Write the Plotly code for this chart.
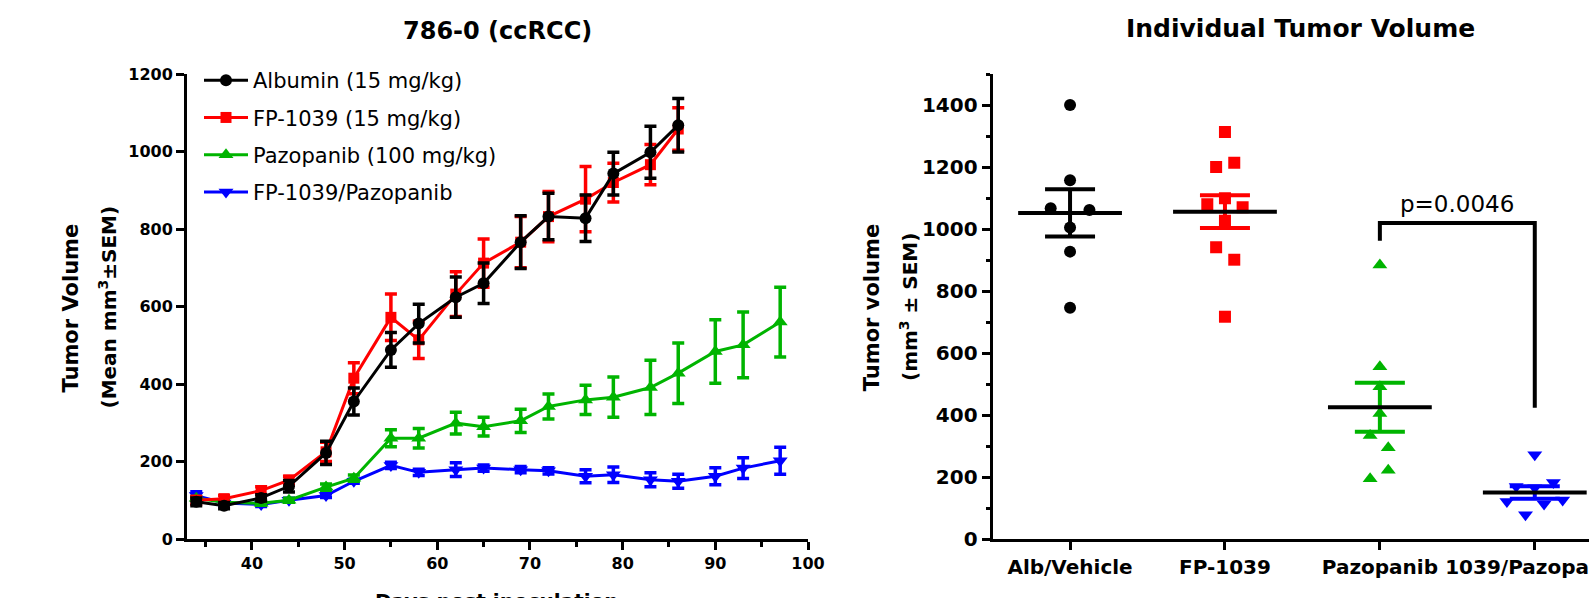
import plotly.graph_objects as go

# ---------------- data: left panel (mean ± SEM over time) ----------------
days = [34, 37, 41, 44, 48, 51, 55, 58, 62, 65, 69, 72, 76, 79, 83, 86, 90, 93, 97]

albumin_mean = [96, 86, 106, 136, 222, 355, 488, 556, 624, 660, 766, 832, 828, 943, 998, 1068]
albumin_sem = [10, 8, 8, 15, 30, 35, 45, 50, 52, 52, 68, 60, 60, 55, 67, 69]

fp1039_mean = [100, 104, 125, 152, 225, 415, 572, 514, 632, 712, 766, 832, 877, 920, 966, 1058]
fp1039_sem = [10, 8, 10, 10, 25, 40, 60, 48, 58, 62, 66, 65, 84, 50, 52, 55]

pazopanib_mean = [105, 95, 92, 100, 134, 157, 260, 260, 299, 290, 305, 342, 359, 366, 391, 428, 484, 501, 560]
pazopanib_sem = [5, 5, 5, 5, 8, 8, 22, 25, 28, 24, 30, 32, 38, 52, 70, 78, 82, 85, 90]

combo_mean = [112, 93, 89, 100, 112, 149, 190, 172, 179, 183, 179, 176, 162, 166, 153, 149, 162, 183, 202]
combo_sem = [10, 5, 5, 5, 5, 5, 8, 8, 18, 8, 8, 8, 17, 20, 18, 18, 22, 27, 35]

legend_names = ["Albumin (15 mg/kg)", "FP-1039 (15 mg/kg)", "Pazopanib (100 mg/kg)", "FP-1039/Pazopanib"]

# ---------------- data: right panel (individual tumour volumes) ----------------
categories = ["Alb/Vehicle", "FP-1039", "Pazopanib", "1039/Pazopanib"]

alb_values = [1400, 1157, 1067, 1061, 1005, 927, 746]
fp_values = [1313, 1200, 1214, 1099, 1080, 1070, 1027, 941, 901, 717]
paz_values = [884, 556, 491, 405, 334, 294, 222, 194]
combo_values = [272, 169, 165, 182, 121, 113, 126, 78]

group_means = [1052, 1056, 425, 150]
group_sems = [76, 53, 79, 20]

p_value_text = "p=0.0046"
bracket_top = 1019
bracket_left_end = 962
bracket_right_end = 423

# horizontal jitter of the individual points (layout, category units)
alb_jitter = [0, 0, -0.125, 0.125, 0, 0, 0]
fp_jitter = [0, -0.057, 0.06, 0, -0.114, 0.114, 0, -0.057, 0.06, 0]
paz_jitter = [0, 0, 0, 0, -0.063, 0.054, 0.054, -0.063]
combo_jitter = [0, -0.12, 0, 0.12, -0.18, 0.06, 0.18, -0.06]

# ---------------- styling ----------------
W, H = 1589, 598
FONT = "DejaVu Sans"
BLACK, RED, GREEN, BLUE = "#000000", "#FF0000", "#00B400", "#0000FF"
PLOT_TOP, PLOT_BOTTOM = 74, 539


def py(pixel_y):
    return (PLOT_BOTTOM - pixel_y) / (PLOT_BOTTOM - PLOT_TOP)


fig = go.Figure()

left_series = [
    (legend_names[3], combo_mean, combo_sem, BLUE, "triangle-down", 13, 4),
    (legend_names[2], pazopanib_mean, pazopanib_sem, GREEN, "triangle-up", 13, 3),
    (legend_names[1], fp1039_mean, fp1039_sem, RED, "square", 11, 2),
    (legend_names[0], albumin_mean, albumin_sem, BLACK, "circle", 12, 1),
]
for name, m, e, c, sym, size, rank in left_series:
    fig.add_trace(go.Scatter(
        x=days[:len(m)], y=m, mode="lines+markers", name=name,
        line=dict(color=c, width=3),
        marker=dict(symbol=sym, size=size, color=c),
        error_y=dict(type="data", array=e, color=c, thickness=3.5, width=6, visible=True),
        legendgroup=name, legendrank=rank, xaxis="x", yaxis="y",
    ))

right_groups = [
    (alb_values, alb_jitter, BLACK, "circle", 12),
    (fp_values, fp_jitter, RED, "square", 12),
    (paz_values, paz_jitter, GREEN, "triangle-up", 13),
    (combo_values, combo_jitter, BLUE, "triangle-down", 13),
]
for i, (vals, jit, c, sym, size) in enumerate(right_groups):
    fig.add_trace(go.Scatter(
        x=[i + j for j in jit], y=vals, mode="markers",
        marker=dict(symbol=sym, size=size, color=c),
        showlegend=False, xaxis="x2", yaxis="y2", hoverinfo="y",
    ))
for i, (vals, jit, c, sym, size) in enumerate(right_groups):
    fig.add_trace(go.Scatter(
        x=[i], y=[group_means[i]], mode="markers",
        marker=dict(size=1, color="rgba(0,0,0,0)"),
        error_y=dict(type="data", array=[group_sems[i]], color=c, thickness=4, width=25, visible=True),
        showlegend=False, xaxis="x2", yaxis="y2", hoverinfo="skip",
    ))
MEAN_HALF = 0.335
for i, m in enumerate(group_means):
    fig.add_trace(go.Scatter(
        x=[i - MEAN_HALF, i + MEAN_HALF], y=[m, m], mode="lines",
        line=dict(color=BLACK, width=4),
        showlegend=False, xaxis="x2", yaxis="y2", hoverinfo="skip",
    ))

axis_common = dict(
    showline=True, linecolor=BLACK, linewidth=3, mirror=False,
    showgrid=False, zeroline=False, ticks="outside", tickcolor=BLACK,
    tickwidth=3, ticklen=8, automargin=False,
)

fig.update_layout(
    template="none",
    width=W, height=H, autosize=False,
    margin=dict(l=0, r=0, t=PLOT_TOP, b=H - PLOT_BOTTOM, pad=0),
    paper_bgcolor="white", plot_bgcolor="white",
    showlegend=True,
    legend=dict(
        x=199 / W, y=py(60), xanchor="left", yanchor="top",
        font=dict(family=FONT, size=21, color=BLACK),
        bgcolor="rgba(0,0,0,0)", tracegroupgap=7, itemwidth=44,
    ),
    xaxis=dict(
        domain=[187 / W, 808 / W], range=[33, 100], anchor="y",
        tick0=0, dtick=10,
        minor=dict(dtick=5, tick0=0, ticks="outside", ticklen=5, tickwidth=3, tickcolor=BLACK),
        tickfont=dict(family=FONT, size=16, color=BLACK, weight="bold"),
        **axis_common,
    ),
    yaxis=dict(
        domain=[0, 1], range=[0, 1200], anchor="x",
        tick0=0, dtick=200,
        tickfont=dict(family=FONT, size=16, color=BLACK, weight="bold"),
        **axis_common,
    ),
    xaxis2=dict(
        domain=[992.6 / W, 1.0], range=[-0.5, 3.35], anchor="y2",
        tickmode="array", tickvals=[0, 1, 2, 3], ticktext=categories,
        ticklabeloverflow="allow",
        tickfont=dict(family=FONT, size=20, color=BLACK, weight="bold"),
        **axis_common,
    ),
    yaxis2=dict(
        domain=[0, 1], range=[0, 1500], anchor="x2",
        tick0=0, dtick=200,
        minor=dict(dtick=100, tick0=0, ticks="outside", ticklen=4, tickwidth=3, tickcolor=BLACK),
        tickfont=dict(family=FONT, size=20, color=BLACK, weight="bold"),
        **axis_common,
    ),
)

fig.add_shape(
    type="path", xref="x2", yref="y2",
    path=f"M 2,{bracket_left_end} L 2,{bracket_top} L 3,{bracket_top} L 3,{bracket_right_end}",
    line=dict(color=BLACK, width=4),
)

bold = dict(family=FONT, color=BLACK, weight="bold")
annotations = [
    dict(text="786-0 (ccRCC)", x=497 / W, y=py(31), font=dict(size=24, **bold)),
    dict(text="Individual Tumor Volume", x=1300.6 / W, y=py(28.5), font=dict(size=25, **bold)),
    dict(text="Tumor Volume", x=70.5 / W, y=py(308), textangle=-90, font=dict(size=21, **bold)),
    dict(text="(Mean mm<sup>3</sup>±SEM)", x=107.5 / W, y=py(307), textangle=-90, font=dict(size=20, **bold)),
    dict(text="Tumor volume", x=871.7 / W, y=py(307.5), textangle=-90, font=dict(size=21, **bold)),
    dict(text="(mm<sup>3</sup> ± SEM)", x=909 / W, y=py(307), textangle=-90, font=dict(size=20, **bold)),
    dict(text="Days post inoculation", x=496.7 / W, y=py(601), font=dict(size=20, **bold)),
]
for a in annotations:
    fig.add_annotation(xref="paper", yref="paper", showarrow=False,
                       xanchor="center", yanchor="middle", **a)

fig.add_annotation(
    xref="x2", yref="y2", x=2.5, y=1080, text=p_value_text, showarrow=False,
    xanchor="center", yanchor="middle",
    font=dict(family=FONT, size=23, color=BLACK),
)

fig.write_html(
    "out.html",
    config={"displayModeBar": False, "responsive": False},
    post_script="document.body.style.margin='0';document.documentElement.style.overflow='hidden';document.body.style.overflow='hidden';",
)
